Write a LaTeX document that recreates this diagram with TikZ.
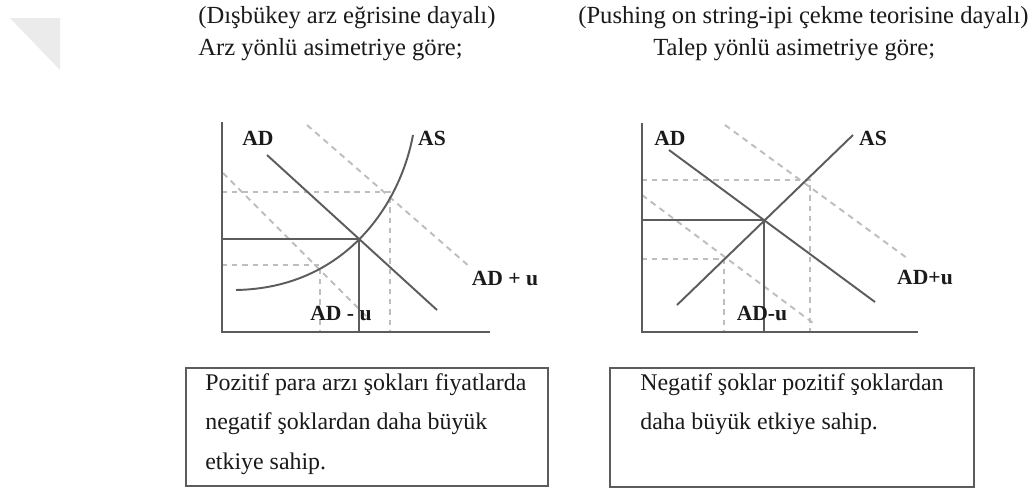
\documentclass[tikz,border=0pt]{standalone}
\usepackage{fontspec}
\setmainfont{Liberation Serif}
\usepackage{xcolor}
\usetikzlibrary{positioning}
\definecolor{lineg}{HTML}{5C5C5C}
\definecolor{dashg}{HTML}{BEBEBE}
\definecolor{textk}{HTML}{1A1A1A}
\definecolor{cornerg}{HTML}{EBEBEB}
\tikzset{
  axis/.style={draw=lineg, line width=1.3pt},
  curve/.style={draw=lineg, line width=1.1pt},
  shiftline/.style={draw=dashg, line width=1.1pt, dash pattern=on 3.4pt off 2.8pt},
  guide/.style={draw=dashg, line width=1pt, dash pattern=on 3pt off 2.8pt},
  lbl/.style={font=\fontsize{12.3}{14}\selectfont\bfseries, text=textk, inner sep=1pt},
  heading/.style={font=\fontsize{14}{16}\selectfont, text=textk, inner sep=0pt, anchor=base west},
  notebox/.style={draw=lineg, line width=1pt, anchor=north west, inner sep=0pt},
  notetext/.style={font=\fontsize{13.6}{22.5}\selectfont, text=textk, align=left, inner sep=0pt}
}
\begin{document}
\begin{tikzpicture}[x=0.02cm, y=-0.02cm]
  \useasboundingbox[fill=white] (0,0) rectangle (1036,488);
  \fill[cornerg] (10,18) -- (60,18) -- (60,70) -- cycle;

  % headings
  \node[heading] (hL1) at (198,23) {(Dışbükey arz eğrisine dayalı)};
  \node[heading] (hL2) at (198,55) {Arz yönlü asimetriye göre;};
  \node[heading] (hR1) at (578,23) {(Pushing on string-ipi çekme teorisine dayalı)};
  \node[heading] (hR2) at (653,55) {Talep yönlü asimetriye göre;};

  % supply side asymmetry
  \coordinate (oL) at (222,332);
  \coordinate (eqL) at (359,239);
  \draw[shiftline] (307,125) -- (470,267);
  \draw[shiftline] (223,173) -- (370,320);
  \draw[guide] (222,192) -- (390,192) -- (390,332);
  \draw[guide] (222,265) -- (320,265) -- (320,332);
  \draw[axis] (222,122) -- (oL) -- (490,332);
  \draw[curve] (267,155) -- (437,310);
  \draw[curve] (236,290) .. controls (345,288) and (400,205) .. (413,135);
  \draw[curve] (222,239) -- (eqL) -- (eqL |- oL);
  \node[lbl] (adL) at (258,138) {AD};
  \node[lbl] (asL) at (432,138) {AS};
  \node[lbl] (adpL) at (505,278) {AD + u};
  \node[lbl] (admL) at (341,313) {AD - u};

  % demand side asymmetry
  \coordinate (oR) at (642,332);
  \coordinate (eqR) at (764,220);
  \draw[shiftline] (725,125) -- (907,258);
  \draw[shiftline] (642,195) -- (813,323);
  \draw[guide] (642,180) -- (810,180) -- (810,332);
  \draw[guide] (642,259) -- (724,259) -- (724,332);
  \draw[axis] (642,123) -- (oR) -- (918,332);
  \draw[curve] (669,150) -- (875,302);
  \draw[curve] (677,305) -- (853,135);
  \draw[curve] (642,220) -- (eqR) -- (eqR |- oR);
  \node[lbl] (adR) at (670,138) {AD};
  \node[lbl] (asR) at (873,138) {AS};
  \node[lbl] (adpR) at (925,277) {AD+u};
  \node[lbl] (admR) at (762,313) {AD-u};

  % notes
  \node[notebox, minimum width=7.24cm, minimum height=2.36cm] (noteL) at (185,367) {};
  \node[notetext, below right=0.12cm and 0.4cm of noteL.north west, anchor=north west] (txtL)
    {Pozitif para arzı şokları fiyatlarda\\negatif şoklardan daha büyük\\etkiye sahip.};
  \node[notebox, minimum width=7.28cm, minimum height=2.38cm] (noteR) at (609,367) {};
  \node[notetext, below right=0.12cm and 0.62cm of noteR.north west, anchor=north west] (txtR)
    {Negatif şoklar pozitif şoklardan\\daha büyük etkiye sahip.};
\end{tikzpicture}
\end{document}
